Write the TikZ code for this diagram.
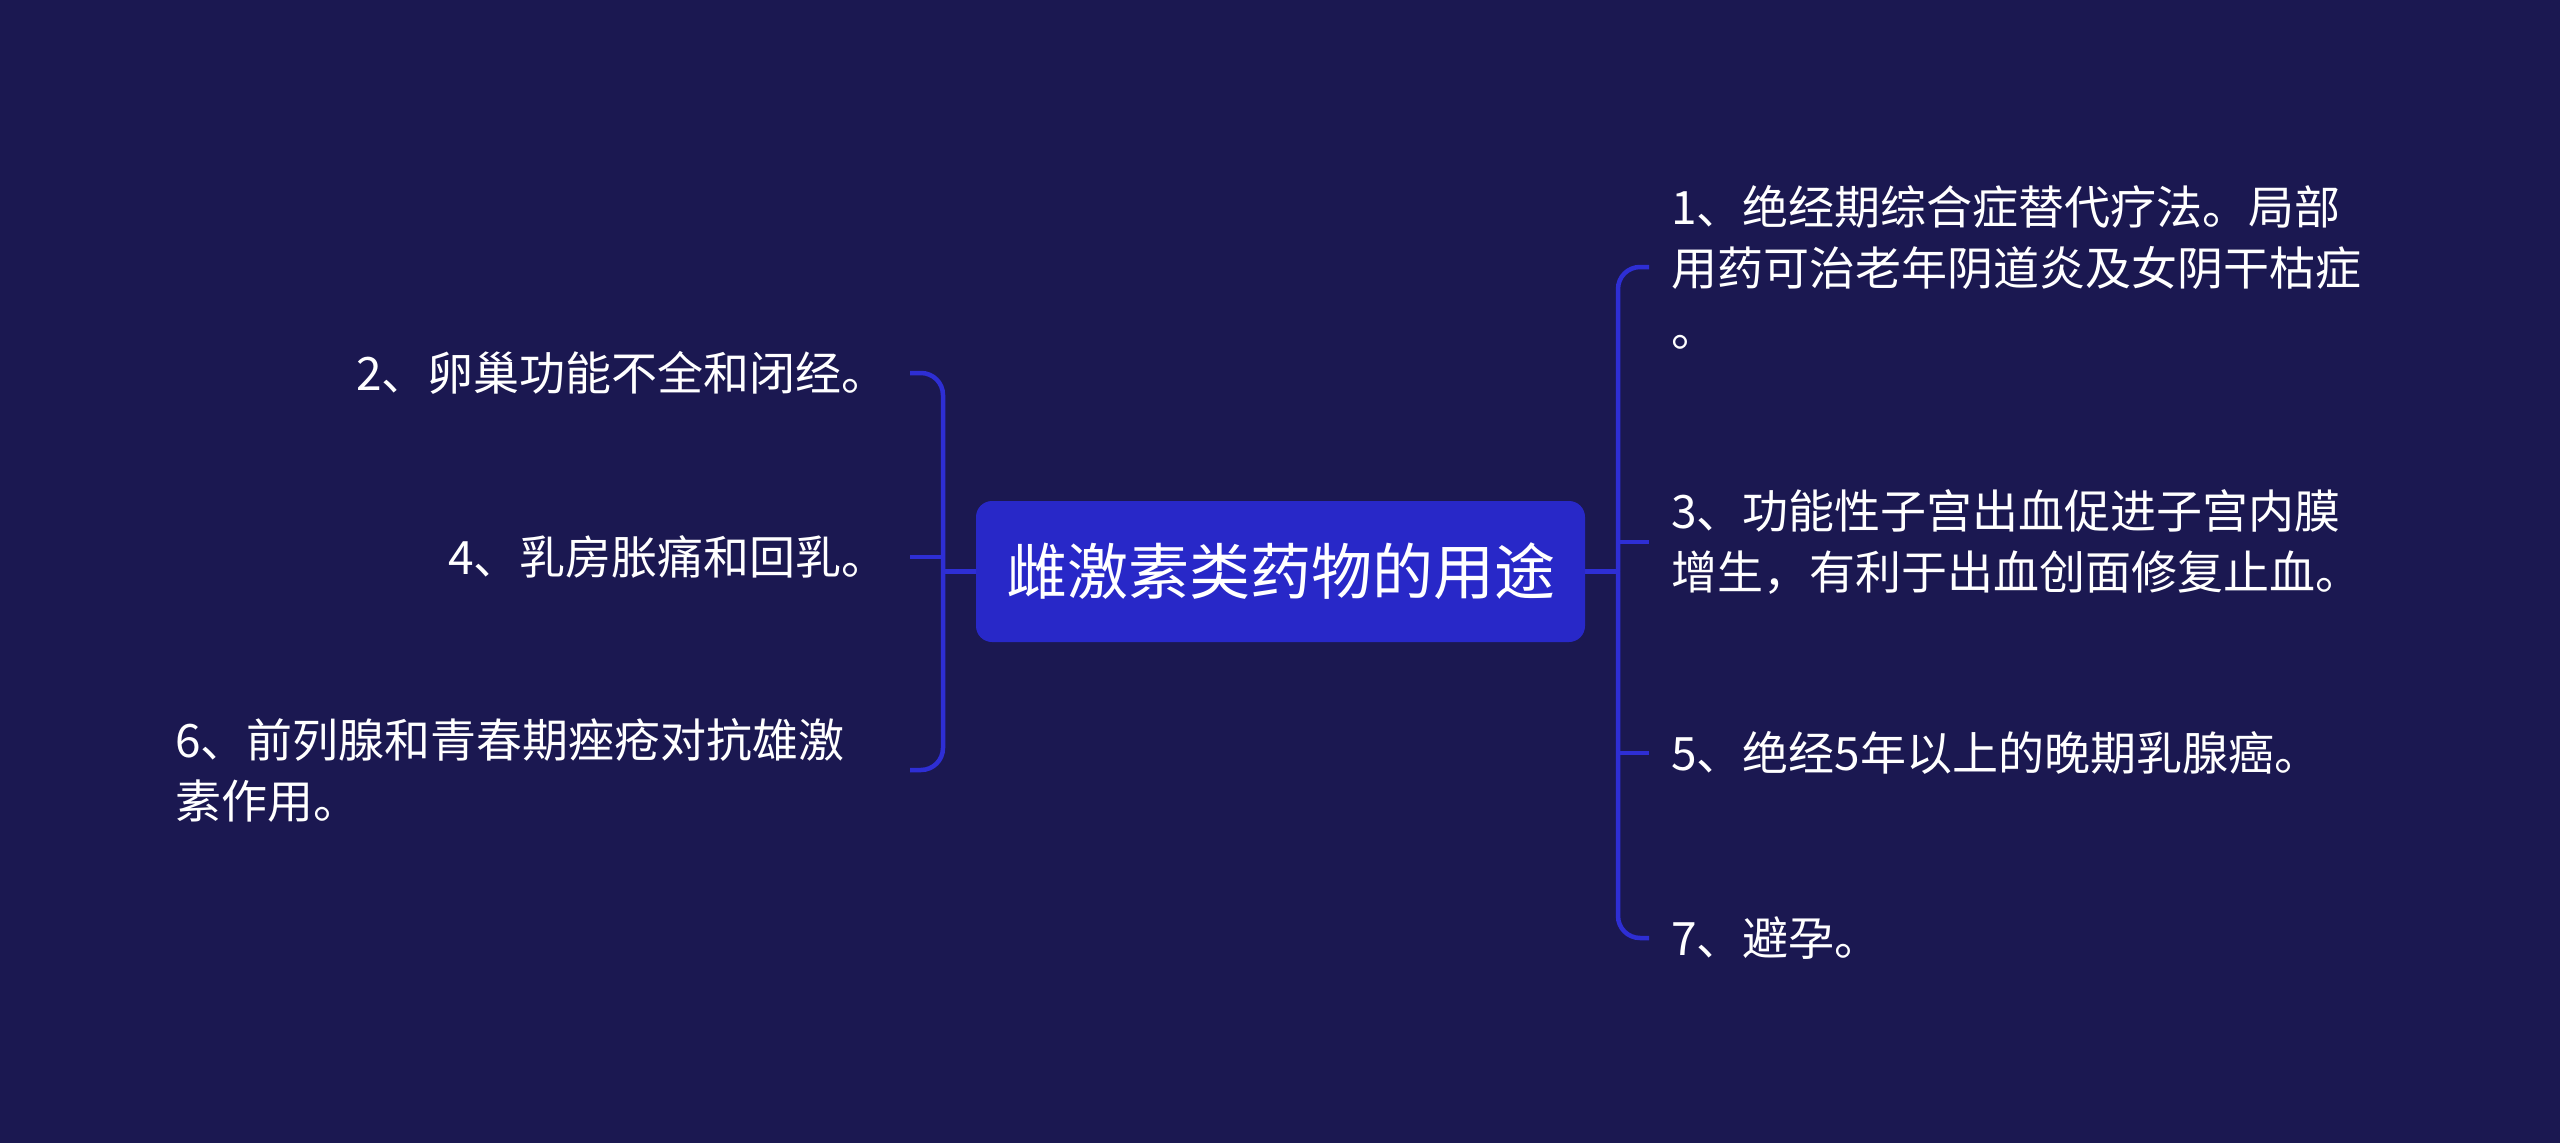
\documentclass[tikz,border=0pt]{standalone}
\usepackage{fontspec}
\newfontfamily\cjk{Noto Sans CJK SC}
\definecolor{bgc}{HTML}{1B1851}
\definecolor{boxc}{HTML}{2828C8}
\definecolor{linec}{HTML}{2E2ED4}
\begin{document}
\begin{tikzpicture}[x=1pt,y=-1pt,
  conn/.style={draw=linec, line width=4.5pt},
  leaf/.style={font=\cjk\fontsize{46}{61}\selectfont, text=white, inner xsep=22pt, inner ysep=0pt},
  rootbox/.style={fill=boxc, rounded corners=16pt, minimum width=609pt, minimum height=141pt, font=\cjk\fontsize{61}{70}\selectfont, text=white, inner sep=0pt}]
\fill[bgc] (0,0) rectangle (2560,1143);
\useasboundingbox (0,0) rectangle (2560,1143);
\node[rootbox] (root) at (1280.5,571.5) {雌激素类药物的用途};
\coordinate (lb) at (943,571.5);
\coordinate (ls) at (910,0);
\coordinate (rb) at (1618,571.5);
\node[leaf, anchor=east, align=right] (n2) at (910,373) {2、卵巢功能不全和闭经。};
\node[leaf, anchor=east, align=right] (n4) at (910,557) {4、乳房胀痛和回乳。};
\node[leaf, anchor=west, align=left] (n6) at (153,770) {6、前列腺和青春期痤疮对抗雄激\\素作用。};
\node[leaf, anchor=west, align=left] (n1) at (1649,267) {1、绝经期综合症替代疗法。局部\\用药可治老年阴道炎及女阴干枯症\\。};
\node[leaf, anchor=west, align=left] (n3) at (1649,542) {3、功能性子宫出血促进子宫内膜\\增生，有利于出血创面修复止血。};
\node[leaf, anchor=west, align=left] (n5) at (1649,753) {5、绝经5年以上的晚期乳腺癌。};
\node[leaf, anchor=west, align=left] (n7) at (1649,938) {7、避孕。};
\draw[conn] (root.west) -- (lb);
\draw[conn] (root.east) -- (rb);
\draw[conn, rounded corners=22pt] (lb) |- (n2.east);
\draw[conn] (lb) |- (n4.east);
\draw[conn, rounded corners=22pt] (lb) |- (ls |- n6.east);
\draw[conn, rounded corners=22pt] (rb) |- (n1.west);
\draw[conn] (rb) |- (n3.west);
\draw[conn] (rb) |- (n5.west);
\draw[conn, rounded corners=22pt] (rb) |- (n7.west);
\end{tikzpicture}
\end{document}
